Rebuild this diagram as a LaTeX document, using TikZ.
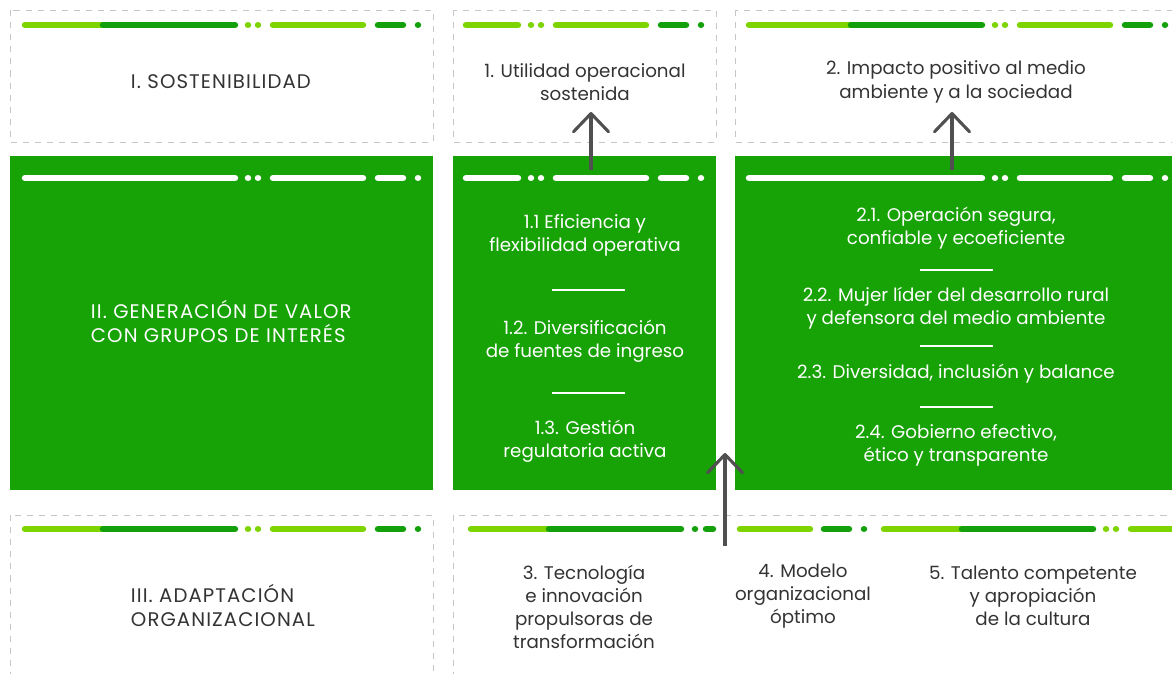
\documentclass[tikz,border=0pt]{standalone}
\usepackage{fontspec}
\setmainfont{Poppins}
\newfontfamily\mayus{Poppins}[LetterSpace=5.5]
\usetikzlibrary{arrows.meta}
\definecolor{verde}{HTML}{17A205}
\definecolor{verdeclaro}{HTML}{7ED400}
\definecolor{verdeosc}{HTML}{13A00A}
\definecolor{gristexto}{HTML}{333333}
\definecolor{grisflecha}{HTML}{505050}
\tikzset{outside/.style={draw=black!22, dash pattern=on 4.3pt off 4.3pt, line width=0.7pt}}
\tikzset{bloque/.style={fill=verde}}
\tikzset{franja/.style={line width=4.6pt, line cap=round}}
\tikzset{corte/.style={white, line width=1.1pt}}
\tikzset{flecha/.style={grisflecha, line width=2.2pt, -{Straight Barb[length=13pt,width=25pt,round]}}}
\tikzset{texto/.style={align=center, font=\fontsize{13}{16.5}\selectfont, text=gristexto}}
\tikzset{blanco/.style={texto, text=white}}
\tikzset{titulo/.style={anchor=west, align=left, font=\mayus\fontsize{14}{17}\selectfont}}
% tail of a bar: two dots, light dash, dark dash, dot
\newcommand{\cola}[4]{%
	\draw[franja,#3] (#2+10,#1) -- ++(0.01,0);
	\draw[franja,#3] (#2+20,#1) -- ++(0.01,0);
	\draw[franja,#3] (#2+35,#1) -- (#2+125,#1);
	\draw[franja,#4] (#2+140,#1) -- (#2+165,#1);
	\draw[franja,#4] (#2+180,#1) -- ++(0.01,0);
}

\begin{document}
\begin{tikzpicture}[x=0.025cm,y=-0.025cm]
	\useasboundingbox (0,0) rectangle (1172,674);
	\clip (0,0) rectangle (1172,674);

	% boxes
	\draw[outside] (10,10) rectangle (433,142);
	\draw[outside] (453,10) rectangle (716,142);
	\draw[outside] (735,10) rectangle (1185,142);
	\fill[bloque] (10,156) rectangle (433,490);
	\fill[bloque] (453,156) rectangle (716,490);
	\fill[bloque] (735,156) rectangle (1185,490);
	\draw[outside] (10,515) rectangle (433,690);
	\draw[outside] (453,515) rectangle (1185,690);

	% top bars
	\draw[franja,verdeclaro] (25,25) -- (103,25);
	\draw[franja,verdeosc] (103,25) -- (235,25);
	\cola{25}{238}{verdeclaro}{verdeosc}
	\draw[franja,verdeclaro] (466,25) -- (518,25);
	\cola{25}{521}{verdeclaro}{verdeosc}
	\draw[franja,verdeclaro] (749,25) -- (851,25);
	\draw[franja,verdeosc] (851,25) -- (982,25);
	\cola{25}{985}{verdeclaro}{verdeosc}

	% white bars
	\draw[franja,white] (25,178) -- (235,178);
	\cola{178}{238}{white}{white}
	\draw[franja,white] (466,178) -- (518,178);
	\cola{178}{521}{white}{white}
	\draw[franja,white] (749,178) -- (982,178);
	\cola{178}{985}{white}{white}

	% bottom bars
	\draw[franja,verdeclaro] (25,529) -- (103,529);
	\draw[franja,verdeosc] (103,529) -- (235,529);
	\cola{529}{238}{verdeclaro}{verdeosc}
	\draw[franja,verdeclaro] (471,529) -- (549,529);
	\draw[franja,verdeosc] (549,529) -- (681,529);
	\draw[franja,verdeosc] (695,529) -- ++(0.01,0);
	\draw[franja,verdeosc] (706,529) -- (713,529);
	\draw[franja,verdeclaro] (740,529) -- (810,529);
	\draw[franja,verdeosc] (824,529) -- (849,529);
	\draw[franja,verdeosc] (864,529) -- ++(0.01,0);
	\draw[franja,verdeclaro] (884,529) -- (962,529);
	\draw[franja,verdeosc] (962,529) -- (1093,529);
	\cola{529}{1096}{verdeclaro}{verdeosc}

	% separators
	\draw[corte] (552,290) -- (625,290);
	\draw[corte] (552,393) -- (625,393);
	\draw[corte] (920,270) -- (993,270);
	\draw[corte] (920,346) -- (993,346);
	\draw[corte] (920,407) -- (993,407);

	% texts
	\node[texto, titulo] (sost) at (126,82) {I. SOSTENIBILIDAD};
	\node[texto] (util) at (585,82) {1. Utilidad operacional\\sostenida};
	\node[texto] (impacto) at (956,82) {2. Impacto positivo al medio\\ambiente y a la sociedad};
	\node[blanco, titulo] (genval) at (86,321) {II. GENERACIÓN DE VALOR\\CON GRUPOS DE INTERÉS};
	\node[blanco] (efic) at (585,235) {1.1 Eficiencia y\\flexibilidad operativa};
	\node[blanco] (divf) at (585,341) {1.2. Diversificación\\de fuentes de ingreso};
	\node[blanco] (gest) at (585,441) {1.3. Gestión\\regulatoria activa};
	\node[blanco] (oper) at (956,228) {2.1. Operación segura,\\confiable y ecoeficiente};
	\node[blanco] (mujer) at (956,308) {2.2. Mujer líder del desarrollo rural\\y defensora del medio ambiente};
	\node[blanco] (diver) at (956,374) {2.3. Diversidad, inclusión y balance};
	\node[blanco] (gob) at (956,445) {2.4. Gobierno efectivo,\\ético y transparente};
	\node[texto, titulo] (adapt) at (126,605) {III. ADAPTACIÓN\\ORGANIZACIONAL};
	\node[texto] (tecno) at (584,607) {3. Tecnología\\e innovación\\propulsoras de\\transformación};
	\node[texto] (modelo) at (803,596) {4. Modelo\\organizacional\\óptimo};
	\node[texto] (talento) at (1033,596) {5. Talento competente\\y apropiación\\de la cultura};

	% arrows
	\coordinate (a1s) at (591,170);	\coordinate (a1e) at (591,112);
	\coordinate (a2s) at (952,170);	\coordinate (a2e) at (952,112);
	\coordinate (a3s) at (725,546);	\coordinate (a3e) at (725,453);
	\draw[flecha] (a1s) -- (a1e);
	\draw[flecha] (a2s) -- (a2e);
	\draw[flecha] (a3s) -- (a3e);

\end{tikzpicture}
\end{document}
